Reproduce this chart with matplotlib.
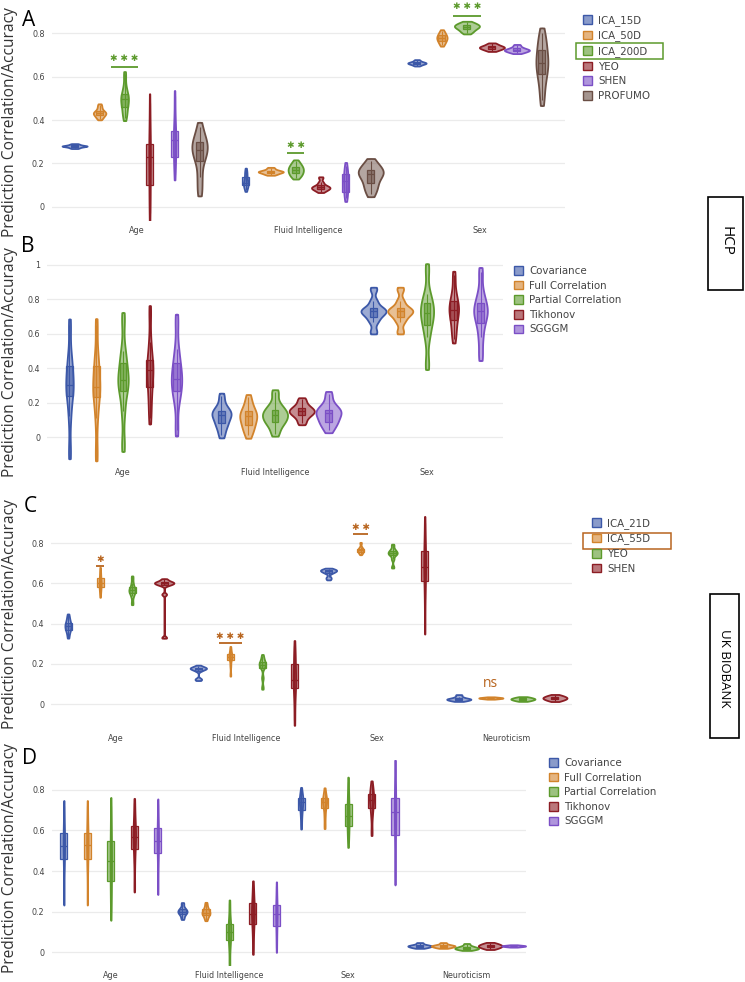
import numpy as np
import matplotlib
matplotlib.use('Agg')
import matplotlib.pyplot as plt
from matplotlib.patches import Patch, Rectangle
from matplotlib.colors import to_rgba
from matplotlib.ticker import FuncFormatter

#-------------------------------------------------------------------------
# data (prediction values per fold)
#-------------------------------------------------------------------------

hcp_tasks = [ 'Age', 'Fluid Intelligence', 'Sex' ]
ukb_tasks = [ 'Age', 'Fluid Intelligence', 'Sex', 'Neuroticism' ]

# panel A : HCP, parcellations
a_methods = [ 'ICA_15D', 'ICA_50D', 'ICA_200D', 'YEO', 'SHEN', 'PROFUMO' ]
a_ica15 = [
  [0.270, 0.274, 0.277, 0.279, 0.280, 0.281, 0.283, 0.286, 0.290],
  [0.080, 0.095, 0.100, 0.105, 0.110, 0.120, 0.140, 0.155, 0.170],
  [0.650, 0.655, 0.658, 0.660, 0.662, 0.664, 0.666, 0.670, 0.676] ]
a_ica50 = [
  [0.405, 0.415, 0.422, 0.428, 0.432, 0.436, 0.442, 0.455, 0.470],
  [0.148, 0.153, 0.157, 0.160, 0.162, 0.164, 0.167, 0.172, 0.180],
  [0.745, 0.757, 0.765, 0.772, 0.778, 0.783, 0.790, 0.798, 0.810] ]
a_ica200 = [
  [0.410, 0.435, 0.460, 0.480, 0.495, 0.505, 0.520, 0.550, 0.610],
  [0.135, 0.145, 0.155, 0.163, 0.170, 0.178, 0.186, 0.195, 0.210],
  [0.800, 0.810, 0.818, 0.824, 0.829, 0.833, 0.837, 0.843, 0.850] ]
a_yeo = [
  [-0.03, 0.040, 0.100, 0.170, 0.230, 0.260, 0.290, 0.360, 0.480],
  [0.070, 0.078, 0.083, 0.087, 0.090, 0.094, 0.100, 0.113, 0.135],
  [0.718, 0.724, 0.728, 0.731, 0.734, 0.737, 0.740, 0.745, 0.752] ]
a_shen = [
  [0.150, 0.210, 0.230, 0.270, 0.310, 0.330, 0.350, 0.410, 0.510],
  [0.040, 0.060, 0.070, 0.100, 0.120, 0.130, 0.150, 0.170, 0.190],
  [0.708, 0.713, 0.717, 0.720, 0.722, 0.725, 0.729, 0.735, 0.745] ]
a_profumo = [
  [0.070, 0.140, 0.210, 0.240, 0.260, 0.280, 0.300, 0.320, 0.370],
  [0.060, 0.090, 0.110, 0.140, 0.150, 0.160, 0.170, 0.185, 0.210],
  [0.490, 0.560, 0.610, 0.640, 0.660, 0.690, 0.720, 0.760, 0.800] ]

# panel B : HCP, network matrix estimation
b_methods = [ 'Covariance', 'Full Correlation', 'Partial Correlation', 'Tikhonov', 'SGGGM' ]
b_cov = [
  [-0.09, 0.120, 0.240, 0.270, 0.300, 0.350, 0.410, 0.470, 0.650],
  [0.010, 0.060, 0.080, 0.110, 0.130, 0.140, 0.150, 0.180, 0.240],
  [0.610, 0.670, 0.700, 0.720, 0.730, 0.740, 0.750, 0.790, 0.860] ]
b_full = [
  [-0.10, 0.110, 0.230, 0.260, 0.290, 0.340, 0.410, 0.470, 0.650],
  [0.010, 0.050, 0.070, 0.100, 0.120, 0.130, 0.150, 0.180, 0.230],
  [0.610, 0.670, 0.700, 0.720, 0.730, 0.740, 0.750, 0.790, 0.860] ]
b_partial = [
  [-0.05, 0.150, 0.270, 0.300, 0.330, 0.370, 0.430, 0.500, 0.690],
  [0.020, 0.070, 0.090, 0.110, 0.130, 0.140, 0.160, 0.190, 0.260],
  [0.420, 0.580, 0.650, 0.690, 0.720, 0.750, 0.780, 0.830, 0.980] ]
b_tikhonov = [
  [0.110, 0.210, 0.290, 0.340, 0.390, 0.420, 0.450, 0.550, 0.730],
  [0.080, 0.110, 0.130, 0.140, 0.150, 0.160, 0.170, 0.190, 0.220],
  [0.570, 0.630, 0.680, 0.720, 0.740, 0.760, 0.790, 0.840, 0.940] ]
b_sgggm = [
  [0.040, 0.210, 0.270, 0.310, 0.340, 0.380, 0.430, 0.510, 0.680],
  [0.040, 0.080, 0.090, 0.120, 0.140, 0.150, 0.160, 0.190, 0.250],
  [0.470, 0.580, 0.660, 0.700, 0.730, 0.750, 0.780, 0.840, 0.960] ]

# panel C : UK Biobank, parcellations
c_methods = [ 'ICA_21D', 'ICA_55D', 'YEO', 'SHEN' ]
c_ica21 = [
  [0.335, 0.360, 0.370, 0.380, 0.390, 0.395, 0.405, 0.420, 0.440],
  [0.120, 0.125, 0.165, 0.172, 0.175, 0.178, 0.180, 0.182, 0.190],
  [0.620, 0.630, 0.650, 0.655, 0.660, 0.663, 0.665, 0.668, 0.672],
  [0.015, 0.018, 0.021, 0.023, 0.025, 0.027, 0.030, 0.036, 0.045] ]
c_ica55 = [
  [0.540, 0.565, 0.580, 0.590, 0.600, 0.610, 0.625, 0.645, 0.670],
  [0.145, 0.190, 0.220, 0.228, 0.235, 0.242, 0.250, 0.260, 0.280],
  [0.745, 0.752, 0.757, 0.761, 0.765, 0.768, 0.772, 0.780, 0.800],
  [0.025, 0.027, 0.028, 0.029, 0.030, 0.031, 0.032, 0.033, 0.035] ]
c_yeo = [
  [0.500, 0.535, 0.550, 0.560, 0.565, 0.570, 0.580, 0.600, 0.630],
  [0.080, 0.130, 0.180, 0.190, 0.195, 0.200, 0.210, 0.220, 0.240],
  [0.680, 0.720, 0.740, 0.745, 0.750, 0.755, 0.760, 0.770, 0.790],
  [0.015, 0.018, 0.021, 0.023, 0.025, 0.027, 0.029, 0.032, 0.035] ]
c_shen = [
  [0.330, 0.545, 0.590, 0.595, 0.600, 0.602, 0.605, 0.610, 0.620],
  [-0.08, 0.020, 0.080, 0.100, 0.120, 0.150, 0.200, 0.230, 0.290],
  [0.380, 0.520, 0.610, 0.650, 0.680, 0.720, 0.760, 0.800, 0.900],
  [0.015, 0.020, 0.024, 0.027, 0.030, 0.033, 0.036, 0.040, 0.045] ]

# panel D : UK Biobank, network matrix estimation
d_methods = b_methods
d_cov = [
  [0.260, 0.400, 0.460, 0.500, 0.525, 0.550, 0.590, 0.630, 0.720],
  [0.165, 0.180, 0.190, 0.195, 0.200, 0.205, 0.210, 0.220, 0.240],
  [0.620, 0.670, 0.700, 0.720, 0.740, 0.750, 0.760, 0.770, 0.800],
  [0.020, 0.023, 0.026, 0.028, 0.030, 0.032, 0.034, 0.038, 0.045] ]
d_full = [
  [0.260, 0.400, 0.460, 0.500, 0.530, 0.555, 0.590, 0.630, 0.720],
  [0.160, 0.175, 0.185, 0.190, 0.195, 0.200, 0.210, 0.220, 0.240],
  [0.620, 0.670, 0.710, 0.725, 0.740, 0.750, 0.760, 0.770, 0.800],
  [0.020, 0.023, 0.026, 0.028, 0.030, 0.032, 0.034, 0.038, 0.045] ]
d_partial = [
  [0.200, 0.290, 0.350, 0.400, 0.450, 0.500, 0.550, 0.610, 0.720],
  [-0.06, 0.020, 0.060, 0.080, 0.100, 0.120, 0.140, 0.170, 0.240],
  [0.540, 0.590, 0.620, 0.650, 0.670, 0.700, 0.730, 0.770, 0.840],
  [0.010, 0.013, 0.016, 0.018, 0.020, 0.023, 0.026, 0.031, 0.040] ]
d_tikhonov = [
  [0.320, 0.440, 0.510, 0.540, 0.570, 0.590, 0.620, 0.660, 0.735],
  [0.010, 0.090, 0.140, 0.170, 0.190, 0.210, 0.240, 0.270, 0.330],
  [0.590, 0.670, 0.710, 0.730, 0.750, 0.765, 0.780, 0.800, 0.830],
  [0.015, 0.020, 0.024, 0.027, 0.030, 0.033, 0.036, 0.040, 0.045] ]
d_sgggm = [
  [0.310, 0.430, 0.490, 0.520, 0.550, 0.580, 0.610, 0.650, 0.730],
  [0.020, 0.090, 0.130, 0.160, 0.190, 0.210, 0.230, 0.260, 0.325],
  [0.370, 0.500, 0.580, 0.640, 0.690, 0.720, 0.760, 0.810, 0.910],
  [0.025, 0.027, 0.028, 0.029, 0.030, 0.031, 0.032, 0.033, 0.035] ]

#-------------------------------------------------------------------------
# style
#-------------------------------------------------------------------------

W, H = 745, 982
colors = [ '#3c58a8', '#d2832b', '#5c9a2c', '#8c1d24', '#7b4fc6', '#6a4e44' ]
c_green_sig  = '#5c9a2c'
c_orange_sig = '#b8651f'
grid_c = '#ebebeb'
tick_c = '#444444'

def px_rect( l, t, r, b ):
  return [ l/W, 1 - b/H, (r-l)/W, (b-t)/H ]

def fx( x ):
  return x / W

def fy( y ):
  return 1 - y / H

#-------------------------------------------------------------------------
# kde_stats
#-------------------------------------------------------------------------
# Gaussian kde of one violin, pinched at both tips.

def kde_stats( x ):
  x = np.asarray( x, float )
  n = len( x )
  q1, med, q3 = np.percentile( x, [25, 50, 75] )
  spread = min( x.std( ddof=1 ), (q3 - q1) / 1.34 )
  if spread <= 0:
    spread = x.std( ddof=1 )
  h = 0.9 * spread * n ** -0.2
  coords = np.linspace( x.min() - 0.5*h, x.max() + 0.5*h, 500 )
  vals = np.exp( -0.5 * ((coords[:, None] - x[None, :]) / h) ** 2 ).sum( axis=1 )
  vals = vals / ( n * h * np.sqrt( 2*np.pi ) )
  vals[0] = 0.0
  vals[-1] = 0.0
  iqr = q3 - q1
  lo = x[ x >= q1 - 1.5*iqr ].min()
  hi = x[ x <= q3 + 1.5*iqr ].max()
  return dict( coords=coords, vals=vals, mean=x.mean(), median=med,
               min=x.min(), max=x.max(), q1=q1, q3=q3, lo=lo, hi=hi )

#-------------------------------------------------------------------------
# draw_panel
#-------------------------------------------------------------------------

def draw_panel( ax, series, spacing, full_w, box_w ):
  n = len( series )
  for k, samples in enumerate( series ):
    c = colors[k]
    stats = [ kde_stats( s ) for s in samples ]
    peaks = np.array( [ s['vals'].max() for s in stats ] )
    widths = full_w * np.clip( peaks / peaks.max(), 0.06, 1.0 )
    pos = np.arange( len( samples ) ) + ( k - (n - 1) / 2 ) * spacing
    parts = ax.violin( stats, positions=pos, widths=widths, showextrema=False )
    for b in parts['bodies']:
      b.set_alpha( None )
      b.set_facecolor( to_rgba( c, 0.5 ) )
      b.set_edgecolor( c )
      b.set_linewidth( 1.3 )
      b.set_zorder( 2 )
    for st, p in zip( stats, pos ):
      ax.vlines( p, st['lo'], st['hi'], color=c, lw=0.8, zorder=3 )
      ax.add_patch( Rectangle( (p - box_w/2, st['q1']), box_w, st['q3'] - st['q1'],
                               fc=to_rgba( c, 0.55 ), ec=c, lw=0.9, zorder=4 ) )
      ax.hlines( st['median'], p - box_w/2, p + box_w/2, color=c, lw=0.9, zorder=5 )

def style_axes( ax, tasks, yticks, ylim ):
  ax.set_xlim( -0.5, len( tasks ) - 0.5 )
  ax.set_ylim( *ylim )
  ax.set_xticks( range( len( tasks ) ) )
  ax.set_xticklabels( tasks )
  ax.set_yticks( yticks )
  ax.yaxis.set_major_formatter( FuncFormatter( lambda v, _: f'{v:g}' ) )
  ax.tick_params( axis='both', length=0, labelsize=5.8, labelcolor=tick_c )
  ax.tick_params( axis='x', pad=4 )
  ax.tick_params( axis='y', pad=5 )
  for s in ax.spines.values():
    s.set_visible( False )
  ax.grid( axis='y', color=grid_c, lw=0.9 )
  ax.set_axisbelow( True )

def sig( ax, x, y_line, half, txt, c, y_txt, size=6.5 ):
  ax.hlines( y_line, x - half, x + half, color=c, lw=1.3, zorder=6 )
  ax.text( x, y_txt, txt, color=c, ha='center', va='center', fontsize=size,
           family=['DejaVu Sans'], zorder=6 )

def legend( fig, methods, left, top ):
  handles = [ Patch( facecolor=to_rgba( colors[i], 0.6 ), edgecolor=colors[i], lw=1.0 )
              for i in range( len( methods ) ) ]
  fig.legend( handles, methods, loc='upper left', bbox_to_anchor=( fx( left ), fy( top ) ),
              frameon=False, fontsize=7.4, labelcolor=tick_c, handlelength=0.9,
              handleheight=0.9, handletextpad=0.55, labelspacing=0.45,
              borderpad=0, borderaxespad=0 )

#-------------------------------------------------------------------------
# figure
#-------------------------------------------------------------------------

fig = plt.figure( figsize=( W/100, H/100 ), dpi=100 )

# A
ax_a = fig.add_axes( px_rect( 51.5, 10, 565, 220 ) )
style_axes( ax_a, hcp_tasks, [0, 0.2, 0.4, 0.6, 0.8], ( -0.060, 0.906 ) )
draw_panel( ax_a, [ a_ica15, a_ica50, a_ica200, a_yeo, a_shen, a_profumo ],
            0.146, 0.146, 0.041 )
g = -0.5 * 0.146
sig( ax_a, 0 + g, 0.645, 0.08, '\u2731 \u2731 \u2731', c_green_sig, 0.685 )
sig( ax_a, 1 + g, 0.250, 0.05, '\u2731 \u2731', c_green_sig, 0.285 )
sig( ax_a, 2 + g, 0.880, 0.08, '\u2731 \u2731 \u2731', c_green_sig, 0.920 )

# B
ax_b = fig.add_axes( px_rect( 47, 250, 503, 462 ) )
style_axes( ax_b, hcp_tasks, [0, 0.2, 0.4, 0.6, 0.8, 1.0], ( -0.145, 1.087 ) )
draw_panel( ax_b, [ b_cov, b_full, b_partial, b_tikhonov, b_sgggm ], 0.176, 0.165, 0.046 )

# C
ax_c = fig.add_axes( px_rect( 51, 510, 572, 728 ) )
style_axes( ax_c, ukb_tasks, [0, 0.2, 0.4, 0.6, 0.8], ( -0.119, 0.964 ) )
draw_panel( ax_c, [ c_ica21, c_ica55, c_yeo, c_shen ], 0.246, 0.185, 0.054 )
o = -0.5 * 0.246
sig( ax_c, 0 + o, 0.687, 0.03, '\u2731', c_orange_sig, 0.720 )
sig( ax_c, 1 + o, 0.305, 0.09, '\u2731 \u2731 \u2731', c_orange_sig, 0.335 )
sig( ax_c, 2 + o, 0.845, 0.055, '\u2731 \u2731', c_orange_sig, 0.875 )
ax_c.text( 3 + o, 0.10, 'ns', color=c_orange_sig, ha='center', va='center',
           fontsize=10, family=['Open Sans', 'DejaVu Sans'] )

# D
ax_d = fig.add_axes( px_rect( 51.5, 760, 526, 965 ) )
style_axes( ax_d, ukb_tasks, [0, 0.2, 0.4, 0.6, 0.8], ( -0.064, 0.948 ) )
draw_panel( ax_d, [ d_cov, d_full, d_partial, d_tikhonov, d_sgggm ], 0.198, 0.2, 0.06 )

# legends
legend( fig, a_methods, 583, 15 )
legend( fig, b_methods, 514, 266 )
legend( fig, c_methods, 592, 518 )
legend( fig, d_methods, 549, 758 )

# legend highlights
fig.add_artist( Rectangle( ( fx( 576 ), fy( 59 ) ), (663 - 576) / W, 16 / H,
                           transform=fig.transFigure, fill=False, ec=c_green_sig, lw=1.1 ) )
fig.add_artist( Rectangle( ( fx( 583 ), fy( 549 ) ), (671 - 583) / W, 16 / H,
                           transform=fig.transFigure, fill=False, ec=c_orange_sig, lw=1.1 ) )

# cohort boxes
fig.add_artist( Rectangle( ( fx( 708 ), fy( 290 ) ), 35 / W, 93 / H,
                           transform=fig.transFigure, fill=False, ec='black', lw=1.2 ) )
fig.text( fx( 725.5 ), fy( 241 ), 'HCP', rotation=-90, ha='center', va='center',
          fontsize=11, family=['Open Sans', 'DejaVu Sans'] )
fig.add_artist( Rectangle( ( fx( 710 ), fy( 738 ) ), 29 / W, 144 / H,
                           transform=fig.transFigure, fill=False, ec='black', lw=1.2 ) )
fig.text( fx( 724.5 ), fy( 668 ), 'UK BIOBANK', rotation=-90, ha='center', va='center',
          fontsize=9.5, family=['Open Sans', 'DejaVu Sans'] )

# panel letters and y labels
for letter, (x, y) in zip( 'ABCD', [ (22, 20), (21, 246), (24, 507), (22, 759) ] ):
  fig.text( fx( x ), fy( y ), letter, fontsize=15, ha='left', va='center',
            family=['Open Sans', 'DejaVu Sans'] )
for yc in [ 122, 362, 614, 858 ]:
  fig.text( fx( 10 ), fy( yc ), 'Prediction Correlation/Accuracy', rotation=90,
            ha='center', va='center', fontsize=11.2, color='#333333',
            family=['Open Sans', 'DejaVu Sans'] )

fig.savefig( 'out.png', dpi=100 )
